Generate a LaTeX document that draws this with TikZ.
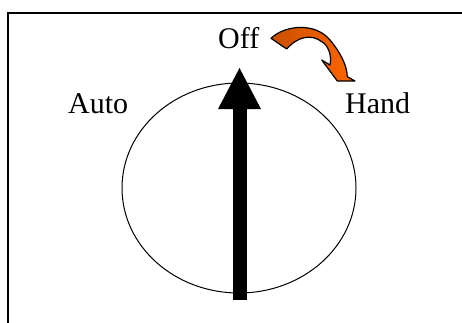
\documentclass[tikz,border=0pt]{standalone}
\usepackage{fontspec}
\setmainfont{Liberation Serif}
\usetikzlibrary{arrows.meta,shapes.geometric}
\definecolor{darkorange}{RGB}{200,80,0}
\definecolor{brightorange}{RGB}{255,102,0}

\begin{document}
\begin{tikzpicture}
	[
	 x = 1pt,
	 y = -1pt,
	 setting/.style = {font=\fontsize{30}{36}\selectfont,
	                  inner sep = 0pt,
	                  anchor = base west},
	 frame/.style  = {line width = 2pt},
	 dialbox/.style = {shape=ellipse,
	                  draw,
	                  line width = 1pt,
	                  inner sep = 0pt,
	                  minimum width = 234pt,
	                  minimum height = 210pt},
	 pointer/.style = {line width = 14pt,
	                  -{Triangle[width=43pt,length=41pt,line width=0pt]}},
	 turn/.style   = {draw,
	                  line width = 1.2pt,
	                  line join = round,
	                  left color = darkorange,
	                  right color = brightorange}
	]
	\useasboundingbox (0,0) rectangle (462,322);

	% frame, only top and left edge are visible
	\draw[frame] (7.5,323) |- (463,12.7);

	% the dial
	\node[dialbox] (dial) at (239,188) {};

	% switch positions
	\node[setting] (auto) at (68,113) {Auto};
	\node[setting] (off)  at (218,48) {Off};
	\node[setting] (hand) at (345,113) {Hand};

	% the pointer
	\coordinate (pivot)  at (239.5,300);
	\coordinate (toppos) at (239.5,68);
	\draw[pointer] (pivot) -- (toppos);

	% turning arrow from Off to Hand
	\path[turn] (271,38.3) .. controls (285,25) and (315,22) .. (330,40)
	       .. controls (340,52) and (347,65) .. (347.3,76.7)
	       -- (355,81) -- (337.3,81) -- (321.7,60) -- (330,65)
	       .. controls (332,55) and (328,45) .. (321.7,41.7)
	       .. controls (312,34) and (298,36) .. (286.7,49) -- cycle;
\end{tikzpicture}
\end{document}
